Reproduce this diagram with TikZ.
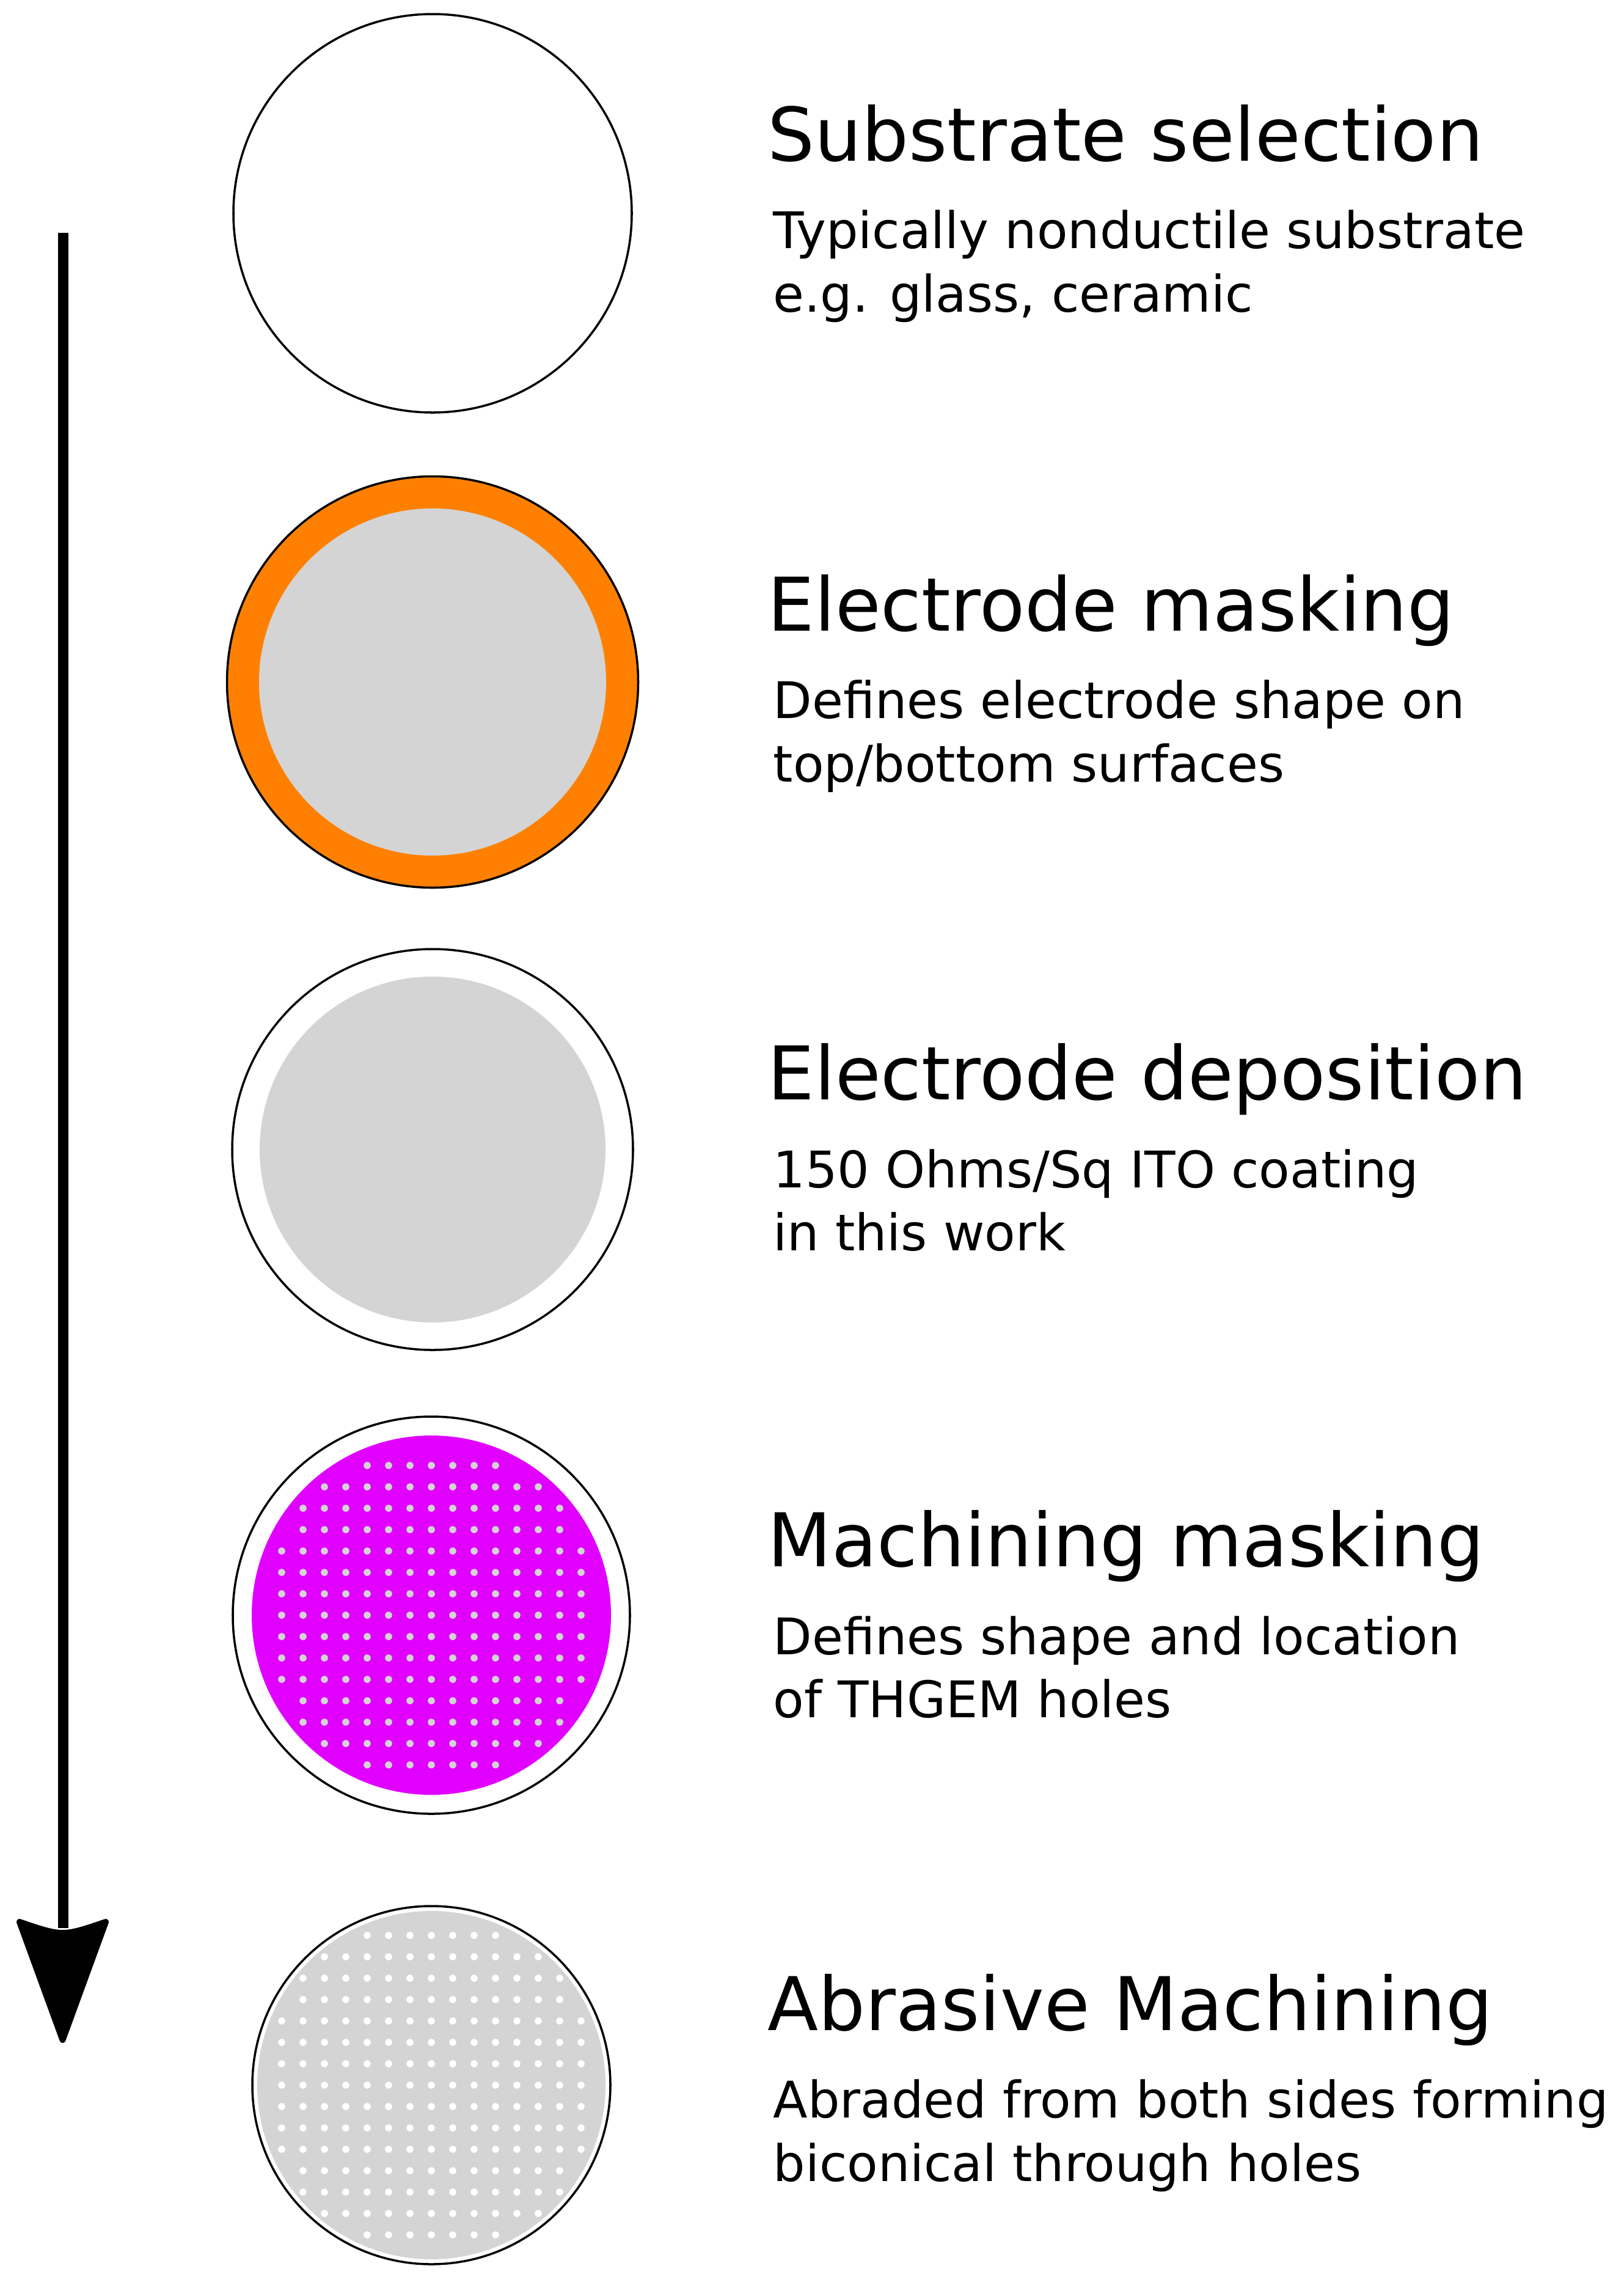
\documentclass[tikz,border=0pt]{standalone}
\usepackage{fontspec}
\setmainfont{DejaVu Sans}
\usepackage{xcolor}
\definecolor{maskorange}{RGB}{255,128,0}
\definecolor{itogray}{RGB}{212,212,212}
\definecolor{maskmagenta}{RGB}{225,0,255}
\usepackage{tikz}
\tikzstyle{wafer} = [circle, draw, line width=1pt, inner sep=0pt]
\tikzstyle{coat} = [circle, inner sep=0pt]
\tikzstyle{steptitle} = [anchor=base west, inner sep=0pt,
  font=\fontsize{34.5}{40}\selectfont]
\tikzstyle{stepnote} = [anchor=base west, inner sep=0pt,
  font=\fontsize{23.5}{29}\selectfont]

\begin{document}
\begin{tikzpicture}
  \useasboundingbox (0,0) rectangle (26.57,-37.26);
  % process arrow
  \coordinate (top) at (1.03,-3.81);
  \coordinate (head) at (1.03,-31.55);
  \draw[line width=0.17cm] (top) -- (head);
  \filldraw[line width=0.1cm, line join=round] (0.32,-31.45) -- (1.025,-33.38)
    -- (1.73,-31.45) .. controls (1.025,-31.69) .. (0.32,-31.45) -- cycle;
  % substrate
  \node[wafer, minimum size=6.52cm] (blank) at (7.08,-3.49) {};
  \node[steptitle] (title1) at (12.56,-2.63) {Substrate selection};
  \node[stepnote] (note1a) at (12.65,-4.06) {Typically nonductile substrate};
  \node[stepnote] (note1b) at (12.65,-5.10) {e.g. glass, ceramic};
  % electrode mask
  \node[wafer, fill=maskorange, minimum size=6.73cm] (mask) at (7.08,-11.16) {};
  \node[coat, fill=itogray, minimum size=5.68cm] (maskin) at (mask) {};
  \node[steptitle] (title2) at (12.56,-10.32) {Electrode masking};
  \node[stepnote] (note2a) at (12.65,-11.755) {Defines electrode shape on};
  \node[stepnote] (note2b) at (12.65,-12.79) {top/bottom surfaces};
  % ITO coating
  \node[wafer, minimum size=6.56cm] (ito) at (7.08,-18.81) {};
  \node[coat, fill=itogray, minimum size=5.66cm] (itoin) at (ito) {};
  \node[steptitle] (title3) at (12.56,-17.99) {Electrode deposition};
  \node[stepnote] (note3a) at (12.65,-19.43) {150 Ohms/Sq ITO coating};
  \node[stepnote] (note3b) at (12.65,-20.46) {in this work};
  % hole mask
  \node[wafer, minimum size=6.5cm] (holes) at (7.06,-26.43) {};
  \node[coat, fill=maskmagenta, minimum size=5.88cm] (holesin) at (holes) {};
  \foreach \i in {-7,...,7}
    \foreach \j in {-7,...,7} {
      \pgfmathparse{int(\i*\i+\j*\j<63)}
      \ifnum\pgfmathresult=1
        \fill[itogray] ([shift={(0.35*\i,0.35*\j)}]holesin) circle (0.058);
      \fi
    }
  \node[steptitle] (title4) at (12.56,-25.63) {Machining masking};
  \node[stepnote] (note4a) at (12.65,-27.07) {Defines shape and location};
  \node[stepnote] (note4b) at (12.65,-28.10) {of THGEM holes};
  % machined
  \node[wafer, minimum size=5.86cm] (thgem) at (7.06,-34.12) {};
  \node[coat, fill=itogray, minimum size=5.7cm] (thgemin) at (thgem) {};
  \foreach \i in {-7,...,7}
    \foreach \j in {-7,...,7} {
      \pgfmathparse{int(\i*\i+\j*\j<63)}
      \ifnum\pgfmathresult=1
        \fill[white] ([shift={(0.35*\i,0.35*\j)}]thgemin) circle (0.058);
      \fi
    }
  \node[steptitle] (title5) at (12.56,-33.22) {Abrasive Machining};
  \node[stepnote] (note5a) at (12.65,-34.655) {Abraded from both sides forming};
  \node[stepnote] (note5b) at (12.65,-35.69) {biconical through holes};
\end{tikzpicture}
\end{document}
